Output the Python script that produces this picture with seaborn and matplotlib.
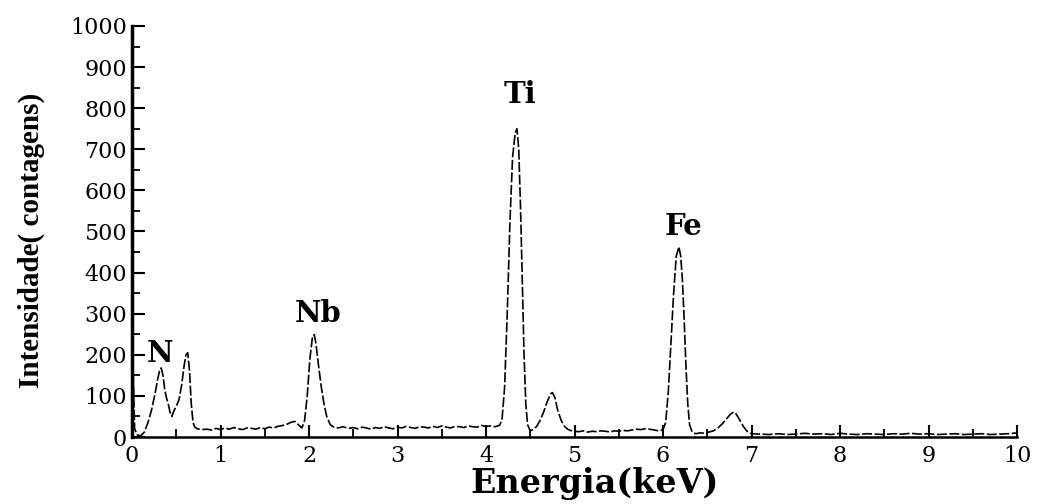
import numpy as np
import pandas as pd
import matplotlib
matplotlib.use("Agg")
import matplotlib.pyplot as plt
from matplotlib.ticker import MultipleLocator
import seaborn as sns

# ---- data ----
energy = [0.00, 0.01, 0.03, 0.06, 0.10, 0.14, 0.18, 0.22, 0.26, 0.29, 0.31, 0.33, 0.35, 0.37,
          0.39, 0.41, 0.43, 0.45, 0.47, 0.50, 0.53, 0.56, 0.59, 0.61, 0.63, 0.65, 0.67, 0.69,
          0.71, 0.74, 0.78, 0.85, 0.90, 0.95, 1.00, 1.05, 1.10, 1.15, 1.20, 1.25, 1.30, 1.35,
          1.40, 1.45, 1.50, 1.55, 1.60, 1.65, 1.70, 1.75, 1.80, 1.84, 1.88, 1.92, 1.95, 1.98,
          2.01, 2.04, 2.06, 2.08, 2.11, 2.14, 2.17, 2.20, 2.24, 2.28, 2.33, 2.38, 2.45, 2.50,
          2.55, 2.60, 2.65, 2.70, 2.75, 2.80, 2.85, 2.90, 2.95, 3.00, 3.05, 3.10, 3.15, 3.20,
          3.25, 3.30, 3.35, 3.40, 3.45, 3.50, 3.55, 3.60, 3.65, 3.70, 3.75, 3.80, 3.85, 3.90,
          3.95, 4.00, 4.05, 4.10, 4.15, 4.18, 4.21, 4.24, 4.27, 4.30, 4.33, 4.35, 4.37, 4.39,
          4.41, 4.43, 4.45, 4.47, 4.50, 4.53, 4.57, 4.61, 4.65, 4.69, 4.73, 4.75, 4.78, 4.81,
          4.85, 4.89, 4.93, 4.98, 5.05, 5.10, 5.15, 5.20, 5.25, 5.30, 5.35, 5.40, 5.45, 5.50,
          5.55, 5.60, 5.65, 5.70, 5.75, 5.80, 5.85, 5.90, 5.95, 6.00, 6.03, 6.06, 6.09, 6.12,
          6.15, 6.18, 6.20, 6.22, 6.24, 6.26, 6.28, 6.30, 6.33, 6.37, 6.42, 6.47, 6.52, 6.57,
          6.62, 6.67, 6.72, 6.76, 6.80, 6.83, 6.87, 6.91, 6.95, 7.00, 7.10, 7.20, 7.30, 7.40,
          7.50, 7.60, 7.70, 7.80, 7.90, 8.00, 8.10, 8.20, 8.30, 8.40, 8.50, 8.60, 8.70, 8.80,
          8.90, 9.00, 9.10, 9.20, 9.30, 9.40, 9.50, 9.60, 9.70, 9.80, 9.90, 10.00]
counts = [0, 185, 20, 5, 3, 12, 35, 65, 105, 140, 160, 168, 150, 115,
          95, 80, 60, 50, 62, 75, 90, 125, 175, 200, 205, 160, 80, 35,
          24, 20, 18, 19, 17, 21, 18, 22, 19, 23, 20, 18, 22, 21,
          19, 23, 20, 24, 22, 26, 28, 31, 36, 38, 30, 22, 40, 100,
          190, 245, 249, 225, 170, 120, 80, 50, 30, 24, 22, 25, 21, 23,
          20, 24, 22, 19, 23, 21, 25, 22, 20, 24, 22, 26, 23, 21,
          25, 24, 22, 26, 23, 27, 24, 22, 26, 25, 23, 27, 25, 24,
          28, 26, 27, 25, 28, 40, 120, 300, 520, 680, 740, 750, 700, 560,
          380, 200, 80, 30, 15, 18, 25, 40, 60, 85, 105, 108, 95, 65,
          40, 25, 18, 14, 13, 15, 12, 14, 13, 15, 14, 12, 15, 14,
          16, 15, 17, 19, 18, 20, 19, 17, 15, 18, 35, 110, 230, 350,
          440, 463, 440, 380, 280, 170, 80, 30, 12, 8, 10, 9, 12, 15,
          22, 32, 45, 55, 61, 55, 40, 25, 14, 8, 7, 6, 8, 6,
          7, 9, 7, 8, 6, 9, 7, 6, 8, 7, 6, 8, 7, 9,
          7, 8, 6, 7, 8, 6, 7, 8, 6, 7, 8, 10]

peak_labels = ["N", "Nb", "Ti", "Fe"]
peak_x = [0.32, 2.10, 4.38, 6.23]
peak_y = [202, 300, 834, 512]

x_ticks = [0, 1, 2, 3, 4, 5, 6, 7, 8, 9, 10]
y_ticks = [0, 100, 200, 300, 400, 500, 600, 700, 800, 900, 1000]

df = pd.DataFrame({"Energia": energy, "Intensidade": counts})

sns.set_style("ticks")
plt.rcParams['font.family'] = ['DejaVu Serif']
plt.rcParams['text.color'] = 'black'

fig = plt.figure(figsize=(10.41, 5.04), dpi=100)
ax = fig.add_axes([132/1041, 67/504, (1017-132)/1041, (437-26)/504])

sns.lineplot(data=df, x="Energia", y="Intensidade", ax=ax, color="black",
             linewidth=1.2, linestyle=(0, (6, 1.5)))

ax.set_xlim(0, 10)
ax.set_ylim(0, 1000)
ax.set_xticks(x_ticks)
ax.set_yticks(y_ticks)
ax.xaxis.set_minor_locator(MultipleLocator(0.5))
ax.yaxis.set_minor_locator(MultipleLocator(50))
ax.tick_params(axis="both", which="major", direction="in", length=9, width=1.5,
               labelsize=16, colors="black")
ax.tick_params(axis="both", which="minor", direction="in", length=6, width=1.3,
               colors="black")
ax.tick_params(axis="x", labelsize=16, pad=6)

for s in ["top", "right"]:
    ax.spines[s].set_visible(False)
ax.spines["left"].set_linewidth(2.5)
ax.spines["bottom"].set_linewidth(1.8)
ax.spines["left"].set_color("black")
ax.spines["bottom"].set_color("black")

ax.set_xlabel("Energia(keV)", fontsize=24, fontweight="bold", color="black")
ax.xaxis.set_label_coords((595 - 132) / (1017 - 132), -(484 - 437) / (437 - 26))
ax.xaxis.label.set_va("center")
ax.set_ylabel("Intensidade( contagens)", fontsize=21, fontweight="bold",
              family=["Liberation Serif", "DejaVu Serif"], color="black")
ax.yaxis.set_label_coords(-(132 - 31) / (1017 - 132), (437 - 240) / (437 - 26))
ax.yaxis.label.set_va("center")

for lab, px, py in zip(peak_labels, peak_x, peak_y):
    ax.text(px, py, lab, fontsize=21, fontweight="bold", ha="center", va="center",
            color="black")

fig.savefig("out.png", dpi=100)
